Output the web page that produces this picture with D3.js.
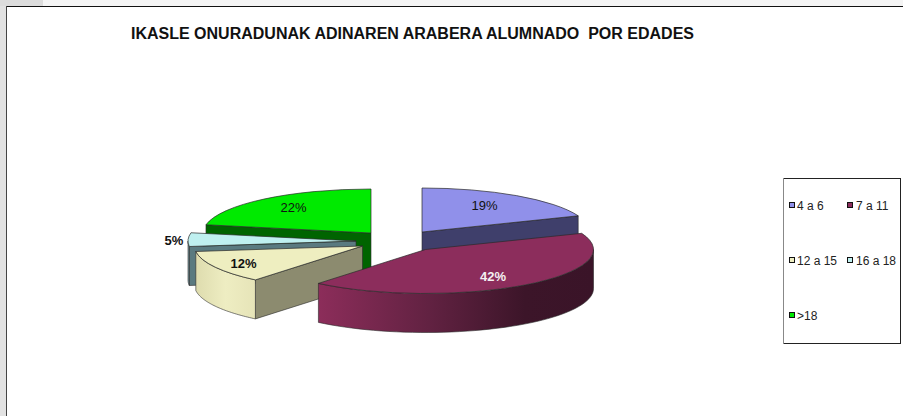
<!DOCTYPE html>
<html><head><meta charset="utf-8">
<script src="https://cdn.jsdelivr.net/npm/d3@7/dist/d3.min.js"></script>
<style>html,body{margin:0;padding:0;background:#fff}svg{display:block}text{font-family:"Liberation Sans",Arial,sans-serif}</style>
</head><body><svg id="c" width="903" height="416"></svg>
<script>
const titleText = "IKASLE ONURADUNAK ADINAREN ARABERA ALUMNADO  POR EDADES";
const categories = ["4 a 6", "7 a 11", "12 a 15", "16 a 18", ">18"];
const values = [19, 42, 12, 5, 22];

// layout + style, separate from the data
const topColors = ["#9090ea", "#8c2d5c", "#eeeec0", "#bff0f0", "#00ea00"];
const edgeColors = ["#3f3f6b", "#3f1528", "#8c8b6f", "#5a7a80", "#006400"];
const wallStops = [
  null,
  [[0, "#8c2d5a"], [0.4, "#622242"], [0.75, "#3c1529"], [1, "#3a1428"]],
  [[0, "#dedcae"], [0.5, "#eeedc2"], [1, "#e6e4b8"]],
  [[0, "#8fb0b4"], [1, "#5a7a80"]],
  null
];
const sliceCentres = [[422, 232], [425.5, 249.5], [362.5, 246], [356, 241], [371, 233]];
const labelNudges = [[-3.5, -1], [-1.5, 2], [-16, 2.5], [-64.5, 0], [-2.5, -2]];
const labelStyles = [["#111", 400], ["#f4f0f2", 700], ["#111", 700], ["#111", 700], ["#111", 400]];
const RX = 168, RY = 44, DEPTH = 39, LABEL_F = 0.7;

const svg = d3.select("#c");
const defs = svg.append("defs");

// window chrome
svg.append("rect").attr("width", 903).attr("height", 6).attr("fill", "#f4f4f4");
svg.append("rect").attr("width", 6).attr("height", 416).attr("fill", "#e2e2e2");
svg.append("rect").attr("width", 43).attr("height", 6).attr("fill", "#dcdcdc");
svg.append("line").attr("x1", 6).attr("x2", 903).attr("y1", 6.5).attr("y2", 6.5).attr("stroke", "#111");
svg.append("line").attr("x1", 6.5).attr("x2", 6.5).attr("y1", 6).attr("y2", 416).attr("stroke", "#444");

svg.append("text").attr("x", 131).attr("y", 38.5).attr("xml:space", "preserve")
  .style("white-space", "pre").attr("font-size", 16).attr("font-weight", 700).attr("fill", "#111").text(titleText);

// scales
const sx = d3.scaleLinear().domain([-1, 1]).range([-RX, RX]);
const sy = d3.scaleLinear().domain([-1, 1]).range([RY, -RY]);
const pie = d3.pie().sort(null).startAngle(0).endAngle(2 * Math.PI);
const slices = pie(values);
const arcGen = d3.arc().innerRadius(0).outerRadius(RX);
const px = a => sx(Math.sin(a)), py = a => sy(Math.cos(a));

const order = [4, 0, 3, 2, 1];
const lineGen = d3.line().x(d => d[0]).y(d => d[1]);
const wallArea = d3.area().x(a => px(a)).y0(a => py(a)).y1(a => py(a) + DEPTH);
const EDGE = "#2a2a2a";

order.forEach(i => {
  const s = slices[i], [cx, cy] = sliceCentres[i];
  const g = svg.append("g").attr("transform", `translate(${cx},${cy})`);
  const flat = a => [[0, 0], [px(a), py(a)], [px(a), py(a) + DEPTH], [0, DEPTH]];
  const wall = a => g.append("path").attr("d", lineGen(flat(a)) + "Z")
    .attr("fill", edgeColors[i]).attr("stroke", EDGE).attr("stroke-width", 0.6);

  if (Math.sin(s.startAngle) < -1e-6) wall(s.startAngle);
  if (Math.sin(s.endAngle) > 1e-6) wall(s.endAngle);

  // curved wall only where the rim faces the viewer
  const a0 = Math.max(s.startAngle, Math.PI / 2), a1 = Math.min(s.endAngle, 3 * Math.PI / 2);
  if (a1 > a0) {
    const n = 48, samples = d3.range(n + 1).map(k => a0 + (a1 - a0) * k / n);
    let fill = edgeColors[i];
    if (wallStops[i]) {
      const id = "wall" + i;
      const lg = defs.append("linearGradient").attr("id", id).attr("x1", 0).attr("x2", 1).attr("y1", 0).attr("y2", 0);
      wallStops[i].forEach(st => lg.append("stop").attr("offset", st[0]).attr("stop-color", st[1]));
      fill = `url(#${id})`;
    }
    g.append("path").attr("d", wallArea(samples)).attr("fill", fill).attr("stroke", EDGE).attr("stroke-width", 0.6);
  }

  g.append("path").attr("d", arcGen(s))
    .attr("transform", `scale(1,${RY / RX})`)
    .attr("fill", topColors[i]).attr("stroke", EDGE).attr("stroke-width", 0.7)
    .attr("vector-effect", "non-scaling-stroke");
});

// value labels
slices.forEach((s, i) => {
  const mid = (s.startAngle + s.endAngle) / 2, [cx, cy] = sliceCentres[i], [nx, ny] = labelNudges[i];
  svg.append("text")
    .attr("x", cx + LABEL_F * px(mid) + nx).attr("y", cy + LABEL_F * py(mid) + ny)
    .attr("text-anchor", "middle").attr("dominant-baseline", "central")
    .attr("font-size", 13).attr("fill", labelStyles[i][0]).attr("font-weight", labelStyles[i][1])
    .text(s.value + "%");
});

// legend
svg.append("rect").attr("x", 783.5).attr("y", 178.5).attr("width", 117).attr("height", 165)
  .attr("fill", "#fff").attr("stroke", "#222");
svg.append("line").attr("x1", 783.5).attr("x2", 783.5).attr("y1", 178).attr("y2", 344).attr("stroke", "#888");
const legX = d3.scalePoint().domain([0, 1]).range([789, 847]);
const legY = d3.scalePoint().domain([0, 1, 2]).range([205, 315]);
categories.forEach((c, i) => {
  const x = legX(i % 2), y = legY(Math.floor(i / 2));
  svg.append("rect").attr("x", x + 0.5).attr("y", y - 2.5).attr("width", 5).attr("height", 5)
    .attr("fill", topColors[i]).attr("stroke", "#111");
  svg.append("text").attr("x", x + (i % 2 ? 9 : 8)).attr("y", y + 4.5)
    .attr("font-size", 12).attr("fill", "#222").text(c);
});
</script></body></html>
